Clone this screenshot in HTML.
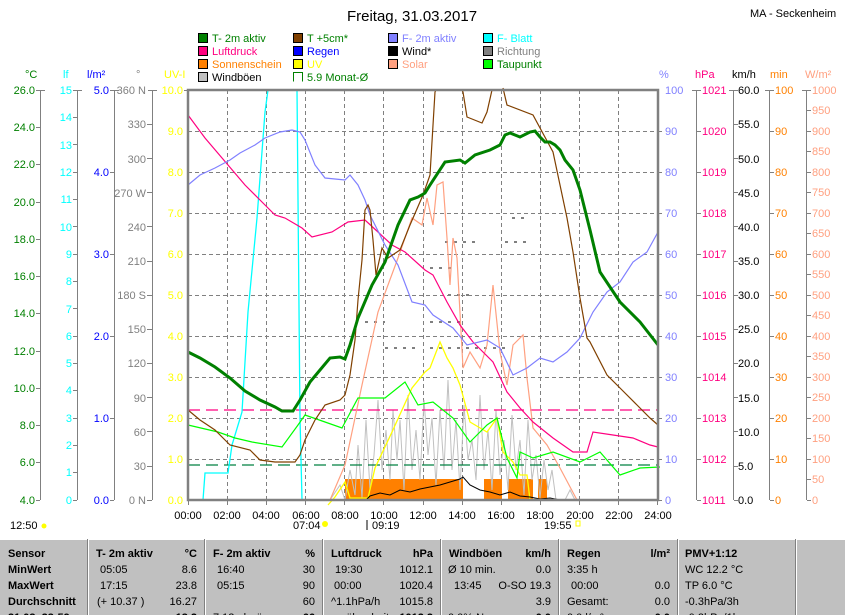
<!DOCTYPE html>
<html><head><meta charset="utf-8"><style>
body{margin:0;background:#fff;width:845px;height:615px;overflow:hidden;font-family:"Liberation Sans",sans-serif}
svg{display:block}
text{font-family:"Liberation Sans",sans-serif;font-size:11px}
.tb{font-weight:bold;font-size:12px}
</style></head><body>
<svg width="845" height="615" viewBox="0 0 845 615" xmlns="http://www.w3.org/2000/svg">
<text x="412" y="21" font-size="15" text-anchor="middle" style="font-size:15px">Freitag, 31.03.2017</text>
<text x="750" y="17">MA - Seckenheim</text>
<!-- legend -->
<g font-size="11">
<rect x="198.5" y="33.5" width="9" height="9" fill="#008000" stroke="#000"/><text x="212" y="42" fill="#008000">T- 2m aktiv</text>
<rect x="198.5" y="46.5" width="9" height="9" fill="#ff0080" stroke="#000"/><text x="212" y="55" fill="#ff0080">Luftdruck</text>
<rect x="198.5" y="59.5" width="9" height="9" fill="#ff8000" stroke="#000"/><text x="212" y="68" fill="#ff8000">Sonnenschein</text>
<rect x="198.5" y="72.5" width="9" height="9" fill="#c0c0c0" stroke="#000"/><text x="212" y="81" fill="#000">Windböen</text>
<rect x="293.5" y="33.5" width="9" height="9" fill="#804000" stroke="#000"/><text x="307" y="42" fill="#008000">T +5cm*</text>
<rect x="293.5" y="46.5" width="9" height="9" fill="#0000ff" stroke="#000"/><text x="307" y="55" fill="#0000ff">Regen</text>
<rect x="293.5" y="59.5" width="9" height="9" fill="#ffff00" stroke="#000"/><text x="307" y="68" fill="#ffff00">UV</text>
<path d="M293.5 81.5V72.5h9v9" fill="none" stroke="#008000"/><text x="307" y="81" fill="#008000">5.9 Monat-Ø</text>
<rect x="388.5" y="33.5" width="9" height="9" fill="#8080ff" stroke="#000"/><text x="402" y="42" fill="#8080ff">F- 2m aktiv</text>
<rect x="388.5" y="46.5" width="9" height="9" fill="#000" stroke="#000"/><text x="402" y="55" fill="#000">Wind*</text>
<rect x="388.5" y="59.5" width="9" height="9" fill="#ffa080" stroke="#000"/><text x="402" y="68" fill="#ffa080">Solar</text>
<rect x="483.5" y="33.5" width="9" height="9" fill="#00ffff" stroke="#000"/><text x="497" y="42" fill="#00ffff">F- Blatt</text>
<rect x="483.5" y="46.5" width="9" height="9" fill="#808080" stroke="#000"/><text x="497" y="55" fill="#808080">Richtung</text>
<rect x="483.5" y="59.5" width="9" height="9" fill="#00ff00" stroke="#000"/><text x="497" y="68" fill="#008000">Taupunkt</text>
</g>
<!-- axis headers -->
<text x="25" y="78" fill="#008000">°C</text>
<text x="63" y="78" fill="#00ffff">lf</text>
<text x="87" y="78" fill="#0000ff">l/m²</text>
<text x="136" y="78" fill="#808080">°</text>
<text x="164" y="78" fill="#ffff00">UV-I</text>
<text x="659" y="78" fill="#8080ff">%</text>
<text x="695" y="78" fill="#ff0080">hPa</text>
<text x="732" y="78" fill="#000">km/h</text>
<text x="770" y="78" fill="#ff8000">min</text>
<text x="805" y="78" fill="#ffa080">W/m²</text>
<!-- grid -->
<g stroke="#808080" stroke-dasharray="4 3" stroke-width="1">
<path d="M227.5 90V500M266.5 90V500M305.5 90V500M344.5 90V500M383.5 90V500M423.5 90V500M462.5 90V500M501.5 90V500M540.5 90V500M579.5 90V500M618.5 90V500"/>
<path d="M188 131.5H658M188 172.5H658M188 213.5H658M188 254.5H658M188 295.5H658M188 336.5H658M188 377.5H658M188 418.5H658M188 459.5H658"/>
</g>
<!-- axes lines -->
<g stroke="#808080" fill="none">
<path d="M40.5 90V500M77.5 90V500M114.5 90V500M152.5 90V500M696.5 90V500M733.5 90V500M769.5 90V500M806.5 90V500"/>
<path d="M36 90.5H45M73 90.5H82M110 90.5H119M148 90.5H157M184 90.5H188M692 90.5H701M729 90.5H738M765 90.5H774M802 90.5H811"/>
</g>
<g id="axes" font-size="11">
<g fill="#008000" text-anchor="end">
<text x="35" y="94">26.0</text><text x="35" y="131">24.0</text><text x="35" y="168">22.0</text><text x="35" y="206">20.0</text><text x="35" y="243">18.0</text><text x="35" y="280">16.0</text><text x="35" y="317">14.0</text><text x="35" y="355">12.0</text><text x="35" y="392">10.0</text><text x="35" y="429">8.0</text><text x="35" y="466">6.0</text><text x="35" y="504">4.0</text>
</g>
<g stroke="#808080"><path d="M36 127.5h4M36 164.5h4M36 202.5h4M36 239.5h4M36 276.5h4M36 313.5h4M36 351.5h4M36 388.5h4M36 425.5h4M36 462.5h4M36 500.5h4"/></g>
<g fill="#00ffff" text-anchor="end">
<text x="72" y="94">15</text><text x="72" y="121">14</text><text x="72" y="149">13</text><text x="72" y="176">12</text><text x="72" y="203">11</text><text x="72" y="231">10</text><text x="72" y="258">9</text><text x="72" y="285">8</text><text x="72" y="313">7</text><text x="72" y="340">6</text><text x="72" y="367">5</text><text x="72" y="394">4</text><text x="72" y="422">3</text><text x="72" y="449">2</text><text x="72" y="476">1</text><text x="72" y="504">0</text>
</g>
<g stroke="#808080"><path d="M73 117.5h4M73 144.5h4M73 172.5h4M73 199.5h4M73 226.5h4M73 254.5h4M73 281.5h4M73 308.5h4M73 336.5h4M73 363.5h4M73 390.5h4M73 418.5h4M73 445.5h4M73 472.5h4M73 500.5h4"/></g>
<g fill="#0000ff" text-anchor="end">
<text x="109" y="94">5.0</text><text x="109" y="176">4.0</text><text x="109" y="258">3.0</text><text x="109" y="340">2.0</text><text x="109" y="422">1.0</text><text x="109" y="504">0.0</text>
</g>
<g stroke="#808080"><path d="M110 172.5h4M110 254.5h4M110 336.5h4M110 418.5h4M110 500.5h4"/></g>
<g fill="#808080" text-anchor="end">
<text x="146" y="94">360 N</text><text x="146" y="128">330</text><text x="146" y="163">300</text><text x="146" y="197">270 W</text><text x="146" y="231">240</text><text x="146" y="265">210</text><text x="146" y="299">180 S</text><text x="146" y="333">150</text><text x="146" y="367">120</text><text x="146" y="402">90</text><text x="146" y="436">60</text><text x="146" y="470">30</text><text x="146" y="504">0 N</text>
</g>
<g stroke="#808080"><path d="M147 124.5h5M147 158.5h5M147 192.5h5M147 226.5h5M147 261.5h5M147 295.5h5M147 329.5h5M147 363.5h5M147 397.5h5M147 431.5h5M147 466.5h5M147 500.5h5"/></g>
<g fill="#ffff00" text-anchor="end">
<text x="183" y="94">10.0</text><text x="183" y="135">9.0</text><text x="183" y="176">8.0</text><text x="183" y="217">7.0</text><text x="183" y="258">6.0</text><text x="183" y="299">5.0</text><text x="183" y="340">4.0</text><text x="183" y="381">3.0</text><text x="183" y="422">2.0</text><text x="183" y="463">1.0</text><text x="183" y="504">0.0</text>
</g>
<g fill="#8080ff">
<text x="665" y="94">100</text><text x="665" y="135">90</text><text x="665" y="176">80</text><text x="665" y="217">70</text><text x="665" y="258">60</text><text x="665" y="299">50</text><text x="665" y="340">40</text><text x="665" y="381">30</text><text x="665" y="422">20</text><text x="665" y="463">10</text><text x="665" y="504">0</text>
</g>
<g stroke="#808080"><path d="M658 131.5h4M658 172.5h4M658 213.5h4M658 254.5h4M658 295.5h4M658 336.5h4M658 377.5h4M658 418.5h4M658 459.5h4M658 500.5h4"/></g>
<g fill="#ff0080">
<text x="702" y="94">1021</text><text x="702" y="135">1020</text><text x="702" y="176">1019</text><text x="702" y="217">1018</text><text x="702" y="258">1017</text><text x="702" y="299">1016</text><text x="702" y="340">1015</text><text x="702" y="381">1014</text><text x="702" y="422">1013</text><text x="702" y="463">1012</text><text x="702" y="504">1011</text>
</g>
<g stroke="#808080"><path d="M697 131.5h4M697 172.5h4M697 213.5h4M697 254.5h4M697 295.5h4M697 336.5h4M697 377.5h4M697 418.5h4M697 459.5h4M697 500.5h4"/></g>
<g fill="#000">
<text x="738" y="94">60.0</text><text x="738" y="128">55.0</text><text x="738" y="163">50.0</text><text x="738" y="197">45.0</text><text x="738" y="231">40.0</text><text x="738" y="265">35.0</text><text x="738" y="299">30.0</text><text x="738" y="333">25.0</text><text x="738" y="367">20.0</text><text x="738" y="402">15.0</text><text x="738" y="436">10.0</text><text x="738" y="470">5.0</text><text x="738" y="504">0.0</text>
</g>
<g stroke="#808080"><path d="M734 124.5h4M734 158.5h4M734 192.5h4M734 226.5h4M734 261.5h4M734 295.5h4M734 329.5h4M734 363.5h4M734 397.5h4M734 431.5h4M734 466.5h4M734 500.5h4"/></g>
<g fill="#ff8000">
<text x="775" y="94">100</text><text x="775" y="135">90</text><text x="775" y="176">80</text><text x="775" y="217">70</text><text x="775" y="258">60</text><text x="775" y="299">50</text><text x="775" y="340">40</text><text x="775" y="381">30</text><text x="775" y="422">20</text><text x="775" y="463">10</text><text x="775" y="504">0</text>
</g>
<g stroke="#808080"><path d="M770 131.5h4M770 172.5h4M770 213.5h4M770 254.5h4M770 295.5h4M770 336.5h4M770 377.5h4M770 418.5h4M770 459.5h4M770 500.5h4"/></g>
<g fill="#ffa080">
<text x="812" y="94">1000</text><text x="812" y="114">950</text><text x="812" y="135">900</text><text x="812" y="155">850</text><text x="812" y="176">800</text><text x="812" y="196">750</text><text x="812" y="217">700</text><text x="812" y="237">650</text><text x="812" y="258">600</text><text x="812" y="278">550</text><text x="812" y="299">500</text><text x="812" y="319">450</text><text x="812" y="340">400</text><text x="812" y="360">350</text><text x="812" y="381">300</text><text x="812" y="401">250</text><text x="812" y="422">200</text><text x="812" y="442">150</text><text x="812" y="463">100</text><text x="812" y="483">50</text><text x="812" y="504">0</text>
</g>
<g stroke="#808080"><path d="M807 110.5h4M807 131.5h4M807 151.5h4M807 172.5h4M807 192.5h4M807 213.5h4M807 233.5h4M807 254.5h4M807 274.5h4M807 295.5h4M807 315.5h4M807 336.5h4M807 356.5h4M807 377.5h4M807 397.5h4M807 418.5h4M807 438.5h4M807 459.5h4M807 479.5h4M807 500.5h4"/></g>
</g>
<!-- data -->
<g fill="#ff8000"><rect x="345" y="479" width="118" height="21"/><rect x="484" y="479" width="18" height="21"/><rect x="508" y="479" width="25" height="21"/><rect x="538" y="479" width="9" height="21"/></g>
<polyline fill="none" stroke="#c0c0c0" points="330,500 340,485 345,500 350,470 355,495 358,445 362,498 366,420 370,490 374,455 378,400 382,470 386,430 390,480 393,410 397,460 400,420 404,490 408,395 412,470 416,430 420,480 424,400 428,455 432,418 436,485 440,410 444,470 448,380 452,470 456,420 460,490 464,405 468,460 472,440 476,480 480,395 484,470 488,430 492,490 496,410 500,475 504,440 508,490 512,415 516,470 520,440 524,495 528,420 532,480 536,455 540,498 544,460 548,490 552,470 556,500 565,500 570,490 575,500 590,500"/>
<path d="M188 410H658" stroke="#ff0080" stroke-dasharray="12 6" stroke-width="1.2"/>
<path d="M188 465H658" stroke="#008040" stroke-dasharray="12 6" stroke-width="1.2"/>
<g stroke="#808080" stroke-width="2" stroke-dasharray="3 6"><path d="M512 218H528M445 242H480M505 242H530M430 268H452M448 295H470M365 322H385M430 322H460M385 348H420M430 348H505"/></g>
<polyline fill="none" stroke="#00ffff" stroke-width="1.3" points="203,500 205,473 228,473 232,445 242,412 248,312 257,218 265,112 268,90 297,90 300,418 302,500"/>
<polyline fill="none" stroke="#ffa080" stroke-width="1.2" points="330,500 345,465 362,385 378,312 398,258 412,218 422,225 427,198 433,225 437,185 443,182 447,238 450,285 453,238 457,258 463,368 470,352 480,368 487,345 493,285 500,352 507,385 513,345 523,335 527,378 533,428 547,445 560,468 577,500"/>
<polyline fill="none" stroke="#ffff00" stroke-width="1.3" points="328,505 335,497 345,482 350,498 368,498 375,468 392,432 412,388 425,372 430,368 440,342 447,358 453,368 460,385 470,422 487,432 497,418 503,452 513,462 520,475 527,475 530,500"/>
<polyline fill="none" stroke="#00ff00" stroke-width="1.2" points="188,425 218,432 235,438 252,442 282,447 298,425 305,415 325,422 342,428 358,398 385,398 405,382 418,405 433,402 453,418 470,442 487,425 497,418 507,458 517,478 520,452 533,458 553,452 580,462 600,452 620,475 640,468 660,467"/>
<polyline fill="none" stroke="#000" points="366,500 370,496 380,493 390,495 400,490 410,492 420,489 430,487 440,485 450,482 460,479 463,477 470,485 480,490 490,492 500,495 510,492 520,496 530,497 540,499 550,498 560,500"/>
<polyline fill="none" stroke="#ff0080" stroke-width="1.2" points="188,115 205,138 228,165 245,185 262,202 275,215 285,218 302,228 312,237 332,232 348,222 365,220 378,232 392,245 405,252 425,270 433,275 447,302 460,325 473,342 493,362 507,392 520,408 533,422 553,438 573,452 587,452 593,432 613,435 633,438 650,445 658,447"/>
<polyline fill="none" stroke="#8080ff" stroke-width="1.2" points="188,185 200,175 215,168 230,160 240,153 255,145 265,138 280,132 292,130 300,132 305,140 315,165 325,178 345,180 350,175 358,185 365,200 370,215 385,245 398,265 412,302 425,305 433,315 453,328 467,345 487,340 500,348 513,375 527,368 540,358 553,362 567,352 580,338 593,312 607,292 620,282 633,262 647,252 658,232"/>
<polyline fill="none" stroke="#804000" stroke-width="1.2" points="188,410 200,420 215,430 230,445 250,450 260,460 275,462 295,462 300,455 305,440 315,420 325,405 340,400 345,395 350,375 355,340 358,300 362,260 365,210 368,205 370,210 373,240 376,275 382,248 388,258 400,250 410,225 423,195 430,175 435,92 436,90 M462,90" />
<polyline fill="none" stroke="#804000" stroke-width="1.2" points="462,90 463,92 467,117 482,123 487,112 492,90"/>
<polyline fill="none" stroke="#804000" stroke-width="1.2" points="503,88 507,105 533,115 553,152 567,218 573,252 580,298 587,338 590,342 607,375 620,388 637,405 650,418 658,425"/>
<polyline fill="none" stroke="#008000" stroke-width="3" points="188,352 200,358 215,367 230,378 245,391 260,400 275,407 282,411 293,411 300,400 310,382 320,370 330,358 340,357 345,359 350,345 358,318 372,285 385,262 398,225 410,200 418,197 425,193 430,185 445,162 460,160 465,163 475,155 490,150 500,145 505,135 510,133 520,137 530,132 535,131 540,137 545,142 550,142 555,145 560,150 565,160 573,170 580,190 590,230 600,272 620,302 640,322 658,345"/>
<rect x="188" y="90" width="470" height="410" fill="none" stroke="#808080" stroke-width="2.5"/>
<!-- x labels -->
<g stroke="#808080"><path d="M188.5 500v5M227.5 500v5M266.5 500v5M305.5 500v5M344.5 500v5M383.5 500v5M423.5 500v5M462.5 500v5M501.5 500v5M540.5 500v5M579.5 500v5M618.5 500v5M657.5 500v5"/></g>
<g text-anchor="middle" fill="#000">
<text x="188" y="519">00:00</text><text x="227" y="519">02:00</text><text x="266" y="519">04:00</text><text x="306" y="519">06:00</text><text x="345" y="519">08:00</text><text x="384" y="519">10:00</text><text x="423" y="519">12:00</text><text x="462" y="519">14:00</text><text x="501" y="519">16:00</text><text x="540" y="519">18:00</text><text x="580" y="519">20:00</text><text x="619" y="519">22:00</text><text x="658" y="519">24:00</text>
</g>
<text x="10" y="529">12:50</text><circle cx="44" cy="526" r="2.5" fill="#ffff00"/>
<text x="293" y="529">07:04</text><circle cx="325" cy="524" r="3" fill="#ffff00"/>
<path d="M367 520v10" stroke="#000"/><text x="372" y="529">09:19</text>
<text x="544" y="529">19:55</text><rect x="576" y="521" width="4" height="5" fill="none" stroke="#ffff00"/>
<!-- table -->
<rect x="0" y="539" width="845" height="76" fill="#c0c0c0"/>
<g stroke="#fff"><path d="M0 539.5H845M88.5 539V615M205.5 539V615M323.5 539V615M441.5 539V615M559.5 539V615M678.5 539V615M796.5 539V615"/></g>
<g stroke="#808080"><path d="M87.5 539V615M204.5 539V615M322.5 539V615M440.5 539V615M558.5 539V615M677.5 539V615M795.5 539V615"/></g>
<g class="tb" fill="#000" style="font-weight:bold;font-size:12px">
<text x="8" y="557">Sensor</text><text x="8" y="573">MinWert</text><text x="8" y="589">MaxWert</text><text x="8" y="605">Durchschnitt</text><text x="8" y="621">31.03. 23:59</text>
<text x="96" y="557">T- 2m aktiv</text><text x="197" y="557" text-anchor="end">°C</text>
<text x="213" y="557">F- 2m aktiv</text><text x="315" y="557" text-anchor="end">%</text>
<text x="331" y="557">Luftdruck</text><text x="433" y="557" text-anchor="end">hPa</text>
<text x="449" y="557">Windböen</text><text x="551" y="557" text-anchor="end">km/h</text>
<text x="567" y="557">Regen</text><text x="670" y="557" text-anchor="end">l/m²</text>
<text x="685" y="557">PMV+1:12</text>
<text x="197" y="621" text-anchor="end">13.2</text><text x="315" y="621" text-anchor="end">66</text><text x="433" y="621" text-anchor="end">1012.2</text><text x="551" y="621" text-anchor="end">0.0</text><text x="670" y="621" text-anchor="end">0.0</text>
</g>
<g fill="#000" font-size="11">
<text x="100" y="573">05:05</text><text x="197" y="573" text-anchor="end">8.6</text>
<text x="100" y="589">17:15</text><text x="197" y="589" text-anchor="end">23.8</text>
<text x="97" y="605">(+ 10.37 )</text><text x="197" y="605" text-anchor="end">16.27</text>
<text x="217" y="573">16:40</text><text x="315" y="573" text-anchor="end">30</text>
<text x="217" y="589">05:15</text><text x="315" y="589" text-anchor="end">90</text>
<text x="315" y="605" text-anchor="end">60</text>
<text x="335" y="573">19:30</text><text x="433" y="573" text-anchor="end">1012.1</text>
<text x="334" y="589">00:00</text><text x="433" y="589" text-anchor="end">1020.4</text>
<text x="331" y="605">^1.1hPa/h</text><text x="433" y="605" text-anchor="end">1015.8</text>
<text x="448" y="573">Ø 10 min.</text><text x="551" y="573" text-anchor="end">0.0</text>
<text x="454" y="589">13:45</text><text x="551" y="589" text-anchor="end">O-SO 19.3</text>
<text x="551" y="605" text-anchor="end">3.9</text>
<text x="567" y="573">3:35 h</text>
<text x="571" y="589">00:00</text><text x="670" y="589" text-anchor="end">0.0</text>
<text x="567" y="605">Gesamt:</text><text x="670" y="605" text-anchor="end">0.0</text>
<text x="685" y="573">WC 12.2 °C</text><text x="685" y="589">TP 6.0 °C</text><text x="685" y="605">-0.3hPa/3h</text>
<text x="213" y="621">7:12 uhr ü</text><text x="331" y="621">  vorüber heiter</text><text x="448" y="621">  0.0% N</text><text x="567" y="621"> 0.0 l/m²</text><text x="685" y="621">-0.2hPa/1h</text>
</g>
</svg>
</body></html>
